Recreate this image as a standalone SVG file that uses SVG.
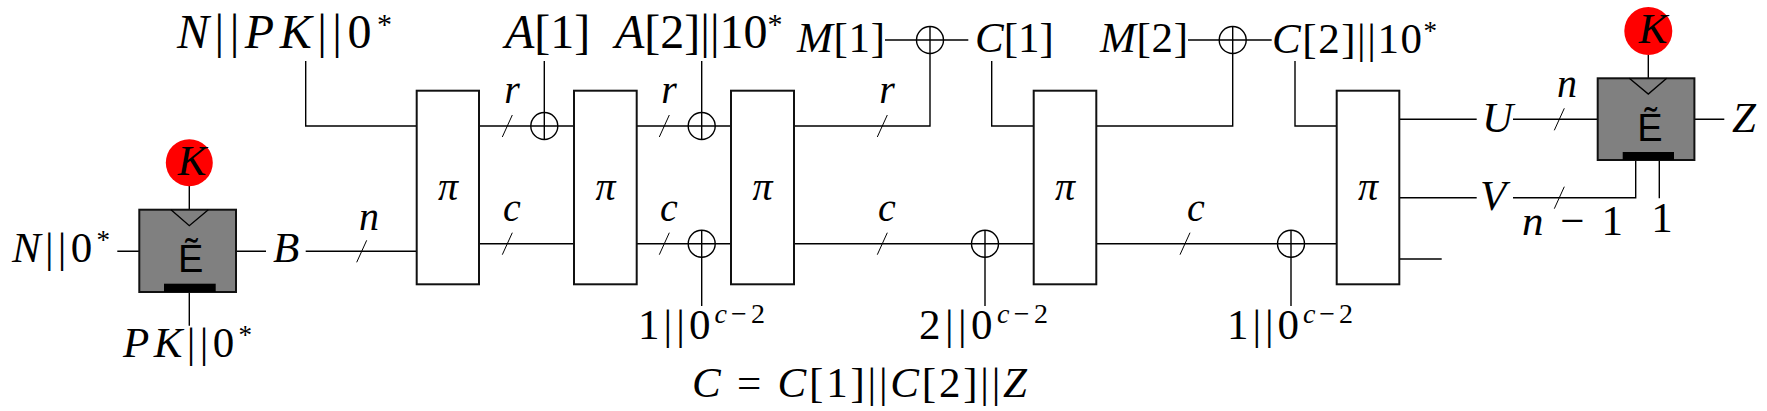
<svg xmlns="http://www.w3.org/2000/svg" width="1767" height="411" viewBox="0 0 1767 411" font-family="'Liberation Serif', serif">
<style>
.w{fill:none;stroke:#000;stroke-width:1.4}
.s{fill:none;stroke:#000;stroke-width:1}
.box{fill:#fff;stroke:#111;stroke-width:2}
.ebox{fill:#808080;stroke:#111;stroke-width:2}
.xor{fill:none;stroke:#000;stroke-width:1.4}
.key{fill:#ff0000}
text{font-family:'Liberation Serif',serif;fill:#000}
.L{font-size:48px}
.M{font-size:43px}
.S{font-size:40px}
.i{font-style:italic}
.mid{text-anchor:middle}
.e{font-family:'Liberation Sans',sans-serif;font-size:38px;text-anchor:middle}
</style>
<g id="connectors">
<path class="w" d="M305.7 61V126H416.7"/>
<path class="w" d="M117.3 251.3H139.3M236 251.3H266M305.7 251.3H416.7"/>
<path class="w" d="M189.3 186V209.7M189.3 292V325.7"/>
<path class="w" d="M479 126H574M479 243.7H574"/>
<path class="w" d="M544.3 61V139.5"/>
<path class="w" d="M636.7 126H731M636.7 243.7H731"/>
<path class="w" d="M701.7 61V139.5M701.7 230.2V306"/>
<path class="w" d="M794 126H930V26.5M885 40H968.3"/>
<path class="w" d="M991.7 61V126H1033.7"/>
<path class="w" d="M794 243.7H1033.7M985 230.2V306"/>
<path class="w" d="M1096.3 126H1232.7V26.5M1188 40H1271.7"/>
<path class="w" d="M1295 61V126H1336.7"/>
<path class="w" d="M1096.3 243.7H1336.7M1291 230.2V306"/>
<path class="w" d="M1399.3 119.3H1476.7M1513 119.3H1597.7"/>
<path class="w" d="M1399.3 197.7H1476.7M1513 197.7H1635.7V160"/>
<path class="w" d="M1399.3 259H1441.7"/>
<path class="w" d="M1694.3 119.3H1724.3M1659.3 160V198.3M1648.3 55V78.3"/>
<circle class="xor" cx="544.3" cy="126" r="13.5"/>
<circle class="xor" cx="701.7" cy="126" r="13.5"/>
<circle class="xor" cx="701.7" cy="243.7" r="13.5"/>
<circle class="xor" cx="930" cy="40" r="13.5"/>
<circle class="xor" cx="985" cy="243.7" r="13.5"/>
<circle class="xor" cx="1232.7" cy="40" r="13.5"/>
<circle class="xor" cx="1291" cy="243.7" r="13.5"/>
<path class="s" d="M356.7 262.3L366.7 240.3"/>
<path class="s" d="M502.3 137L512.3 115M659.3 137L669.3 115M877.3 137L887.3 115"/>
<path class="s" d="M502.3 254.7L512.3 232.7M659.3 254.7L669.3 232.7M877.3 254.7L887.3 232.7M1180 254.7L1190 232.7"/>
<path class="s" d="M1554.3 130.3L1564.3 108.3M1554.3 208.7L1564.3 186.7"/>
</g>
<g id="labels">
<text class="L" x="177" y="48" textLength="215" lengthAdjust="spacing"><tspan class="i">N</tspan>||<tspan class="i">PK</tspan>||0<tspan font-size="30" dy="-14">*</tspan></text>
<text class="L" x="505" y="48"><tspan class="i">A</tspan>[1]</text>
<text class="L" x="615" y="48"><tspan class="i">A</tspan>[2]||10<tspan font-size="30" dy="-14">*</tspan></text>
<text class="M" x="797" y="52" textLength="88" lengthAdjust="spacing"><tspan class="i">M</tspan>[1]</text>
<text class="M" x="975" y="52"><tspan class="i">C</tspan>[1]</text>
<text class="M" x="1100" y="52" textLength="88" lengthAdjust="spacing"><tspan class="i">M</tspan>[2]</text>
<text class="M" x="1272" y="53" textLength="165" lengthAdjust="spacing"><tspan class="i">C</tspan>[2]||10<tspan font-size="27" dy="-13">*</tspan></text>
<text class="M" x="12" y="262" textLength="98" lengthAdjust="spacing"><tspan class="i">N</tspan>||0<tspan font-size="27" dy="-13">*</tspan></text>
<text class="M i" x="273" y="262">B</text>
<text class="M" x="123" y="357" textLength="129" lengthAdjust="spacing"><tspan class="i">PK</tspan>||0<tspan font-size="27" dy="-13">*</tspan></text>
<text class="S i mid" x="369" y="230">n</text>
<text class="S i mid" x="512" y="103">r</text>
<text class="S i mid" x="669" y="103">r</text>
<text class="S i mid" x="887" y="103">r</text>
<text class="S i mid" x="512" y="221">c</text>
<text class="S i mid" x="669" y="221">c</text>
<text class="S i mid" x="887" y="221">c</text>
<text class="S i mid" x="1196" y="221">c</text>
<text class="M" x="638" y="339" textLength="127" lengthAdjust="spacing">1||0<tspan font-size="28" dy="-16"><tspan class="i">c</tspan>−2</tspan></text>
<text class="M" x="919" y="339" textLength="129" lengthAdjust="spacing">2||0<tspan font-size="28" dy="-16"><tspan class="i">c</tspan>−2</tspan></text>
<text class="M" x="1227" y="339" textLength="126" lengthAdjust="spacing">1||0<tspan font-size="28" dy="-16"><tspan class="i">c</tspan>−2</tspan></text>
<text class="M" x="692" y="397" textLength="335" lengthAdjust="spacing"><tspan class="i">C</tspan> = <tspan class="i">C</tspan>[1]||<tspan class="i">C</tspan>[2]||<tspan class="i">Z</tspan></text>
<text class="M i" x="1482" y="132">U</text>
<text class="M i" x="1480" y="210">V</text>
<text class="S i mid" x="1567" y="97">n</text>
<text class="M" x="1522" y="235" textLength="101" lengthAdjust="spacing"><tspan class="i">n</tspan> − 1</text>
<text class="M mid" x="1662" y="232">1</text>
<text class="M i" x="1732" y="132">Z</text>
</g>
<g id="pi1"><rect class="box" x="416.7" y="90.7" width="62.3" height="193.6"/><text class="S i mid" x="448" y="200">π</text></g>
<g id="pi2"><rect class="box" x="574" y="90.7" width="62.7" height="193.6"/><text class="S i mid" x="605.5" y="200">π</text></g>
<g id="pi3"><rect class="box" x="731" y="90.7" width="63" height="193.6"/><text class="S i mid" x="762.5" y="200">π</text></g>
<g id="pi4"><rect class="box" x="1033.7" y="90.7" width="62.6" height="193.6"/><text class="S i mid" x="1065" y="200">π</text></g>
<g id="pi5"><rect class="box" x="1336.7" y="90.7" width="62.6" height="193.6"/><text class="S i mid" x="1368" y="200">π</text></g>
<g id="enc1">
<rect class="ebox" x="139.3" y="209.7" width="96.7" height="82.3"/>
<rect x="164" y="283.7" width="51.7" height="8.3" fill="#000"/>
<path class="w" d="M171 209.7L189.3 225.7L208.3 209.7"/>
<text class="e" x="190.7" y="271.7">Ẽ</text>
</g>
<g id="key1"><circle class="key" cx="189.3" cy="162.7" r="23.5"/><text class="M i mid" x="192" y="175" font-size="44">K</text></g>
<g id="enc2">
<rect class="ebox" x="1597.7" y="78.3" width="96.7" height="81.7"/>
<rect x="1622.7" y="152" width="51.3" height="8" fill="#000"/>
<path class="w" d="M1629.3 78.3L1648.3 94L1666.7 78.3"/>
<text class="e" x="1650" y="140.7">Ẽ</text>
</g>
<g id="key2"><circle class="key" cx="1648.3" cy="31" r="24"/><text class="M i mid" x="1653" y="43" font-size="44">K</text></g>
</svg>
